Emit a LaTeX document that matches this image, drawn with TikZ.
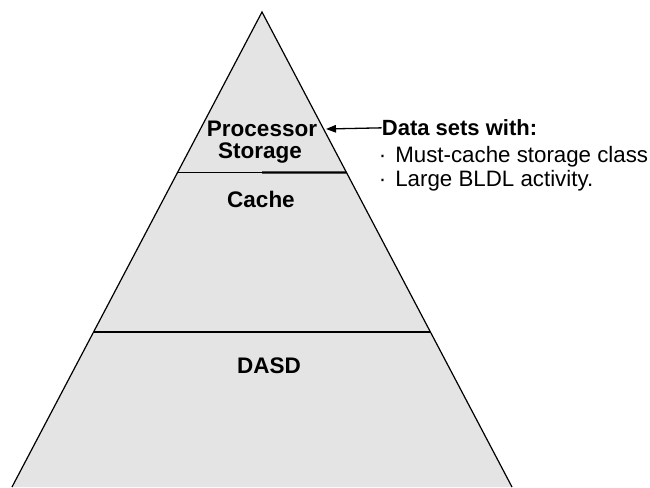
\documentclass[tikz,border=0pt]{standalone}
\usepackage{fontspec}
\setmainfont{Liberation Sans}
\usetikzlibrary{calc,arrows.meta}
\definecolor{pyrfill}{RGB}{228,228,228}
\begin{document}
\begin{tikzpicture}[x=1pt,y=-1pt,
  layer/.style={font=\fontsize{22.5}{26}\selectfont\bfseries, inner sep=0pt, anchor=base},
  note/.style={font=\fontsize{22.3}{26}\selectfont, inner sep=0pt, anchor=base west},
  edge/.style={line width=1.2pt},
  divider/.style={line width=1.6pt}]
\useasboundingbox (0,0) rectangle (650,487);
% pyramid
\coordinate (apex) at (262,12);
\coordinate (bl) at (12,487);
\coordinate (br) at (512,487);
\fill[pyrfill] (apex) -- (bl) -- (br) -- cycle;
\draw[edge, line join=miter] (bl) -- (apex) -- (br);
% dividers
\coordinate (l1) at ($(apex)!0.3379!(bl)$);
\coordinate (r1) at ($(apex)!0.3379!(br)$);
\coordinate (m1) at ($(l1)!0.5!(r1)$);
\coordinate (l2) at ($(apex)!0.6737!(bl)$);
\coordinate (r2) at ($(apex)!0.6737!(br)$);
\draw[divider] (l1) -- (r1);
\draw[line width=2.3pt] (m1) -- (r1);
\draw[divider] (l2) -- (r2);
% layer labels
\node[layer] (proc) at (262,136) {Processor};
\node[layer] (stor) at (260,158) {Storage};
\node[layer] (cache) at (261,207.3) {Cache};
\node[layer] (dasd) at (269,373.3) {DASD};
% note
\node[note, font=\fontsize{22}{26}\selectfont\bfseries] (data) at (381.7,135.7) {Data sets with:};
\node[note] (must) at (378.7,162.7) {·\hspace{9pt}Must-cache storage class};
\node[note] (large) at (378.7,186.7) {·\hspace{9pt}Large BLDL activity.};
\coordinate (tip) at (326,129);
\draw[line width=1.3pt, -{Triangle[length=10pt,width=7.5pt]}] (data.west) -- (tip);
\end{tikzpicture}
\end{document}
